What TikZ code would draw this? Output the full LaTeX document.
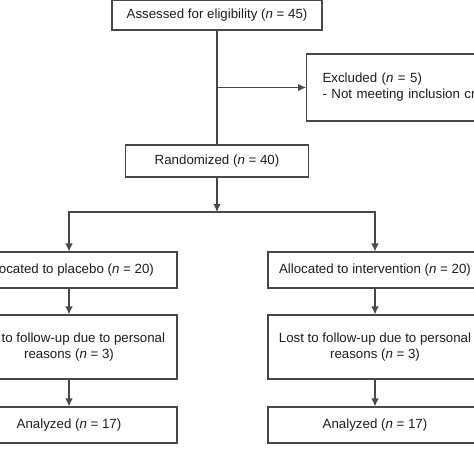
\documentclass[tikz,border=0pt]{standalone}
\usepackage{fontspec}
\setmainfont{Liberation Sans}
\usetikzlibrary{arrows.meta}
\definecolor{linegray}{HTML}{484848}
\definecolor{textgray}{HTML}{1E1E1E}

\begin{document}
\begin{tikzpicture}[x=1pt, y=-1pt,
  box/.style={draw=linegray, line width=1.1pt, fill=white, text=textgray,
    inner sep=0pt, align=center, font=\fontsize{13.3}{16}\selectfont},
  arr/.style={draw=linegray, line width=1.1pt, -{Latex[length=8pt,width=7.5pt]}},
  lin/.style={draw=linegray, line width=1.1pt}]

\newcommand\Mx{217};
\newcommand\Lx{69};
\newcommand\Rx{375};

\useasboundingbox (0,0) rectangle (474,474); %% page size
\clip (0,0) rectangle (474,474);

\node[box, minimum width=210pt, minimum height=30pt] (assess)
  at (\Mx,15) {Assessed for eligibility (\textit{n} = 45)};
\node[box, anchor=west, align=left, text width=200pt, inner xsep=16pt,
  minimum height=67pt] (excl)
  at (306,87.5) {Excluded (\textit{n} = 5)\\- Not meeting inclusion criteria};
\node[box, minimum width=183pt, minimum height=32pt] (rand)
  at (\Mx,161) {Randomized (\textit{n} = 40)};

\node[box, minimum width=216pt, minimum height=36pt] (placebo)
  at (\Lx,270) {Allocated to placebo (\textit{n} = 20)};
\node[box, minimum width=214pt, minimum height=36pt] (interv)
  at (\Rx,270) {Allocated to intervention (\textit{n} = 20)};

\node[box, minimum width=216pt, minimum height=64pt] (lostP)
  at (\Lx,347) {Lost to follow-up due to personal\\reasons (\textit{n} = 3)};
\node[box, minimum width=214pt, minimum height=64pt] (lostI)
  at (\Rx,347) {Lost to follow-up due to personal\\reasons (\textit{n} = 3)};

\node[box, minimum width=216pt, minimum height=36pt] (analP)
  at (\Lx,425) {Analyzed (\textit{n} = 17)};
\node[box, minimum width=214pt, minimum height=36pt] (analI)
  at (\Rx,425) {Analyzed (\textit{n} = 17)};

\coordinate (split) at (\Mx,212);

\draw[lin] (assess.south) -- (rand.north);
\draw[arr] (assess.south |- excl.west) -- (excl.west);
\draw[arr] (rand.south) -- (split);
\draw[arr] (split) -| (placebo.north);
\draw[arr] (split) -| (interv.north);

\draw[arr] (placebo.south) -- (lostP.north);
\draw[arr] (interv.south) -- (lostI.north);
\draw[arr] (lostP.south) -- (analP.north);
\draw[arr] (lostI.south) -- (analI.north);

\end{tikzpicture}
\end{document}
